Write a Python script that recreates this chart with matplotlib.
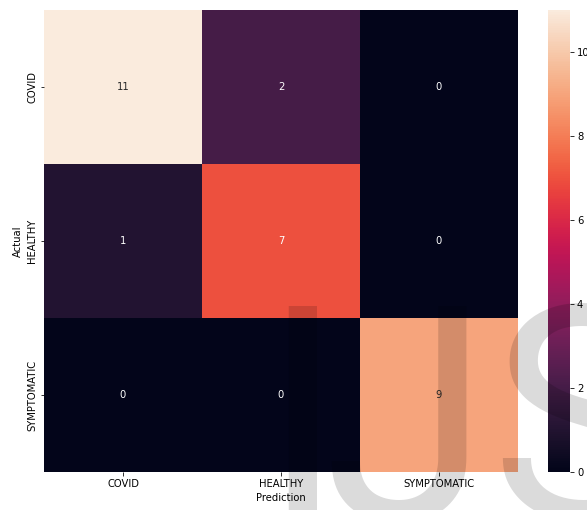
import numpy as np
import matplotlib
matplotlib.use("Agg")
import matplotlib.pyplot as plt
import seaborn as sns

# classes and confusion matrix (rows = actual, cols = prediction)
labels = ["COVID", "HEALTHY", "SYMPTOMATIC"]
cm = np.array([[11, 2, 0],
               [1, 7, 0],
               [0, 0, 9]])

W, H = 587, 510
fig = plt.figure(figsize=(W / 72, H / 72), dpi=72)
ax = fig.add_axes([44 / W, 1 - 472 / H, (518 - 44) / W, (472 - 10) / H])
cax = fig.add_axes([548 / W, 1 - 472 / H, 22 / W, (472 - 10) / H])

sns.heatmap(cm, annot=True, xticklabels=labels, yticklabels=labels,
            ax=ax, cbar_ax=cax)
ax.set_xlabel("Prediction")
ax.set_ylabel("Actual")
plt.setp(ax.get_yticklabels(), rotation=90, va="center")

# watermark
wm = dict(fontsize=300, family="Roboto", color="black", alpha=0.14,
          va="baseline", ha="left")
base = (H - 520) / H
fig.text(261 / W, base, "I", **wm)
fig.text(323 / W, base, "J", **wm)
fig.text(490 / W, base, "S", **wm)

fig.savefig("out.png", dpi=72)
